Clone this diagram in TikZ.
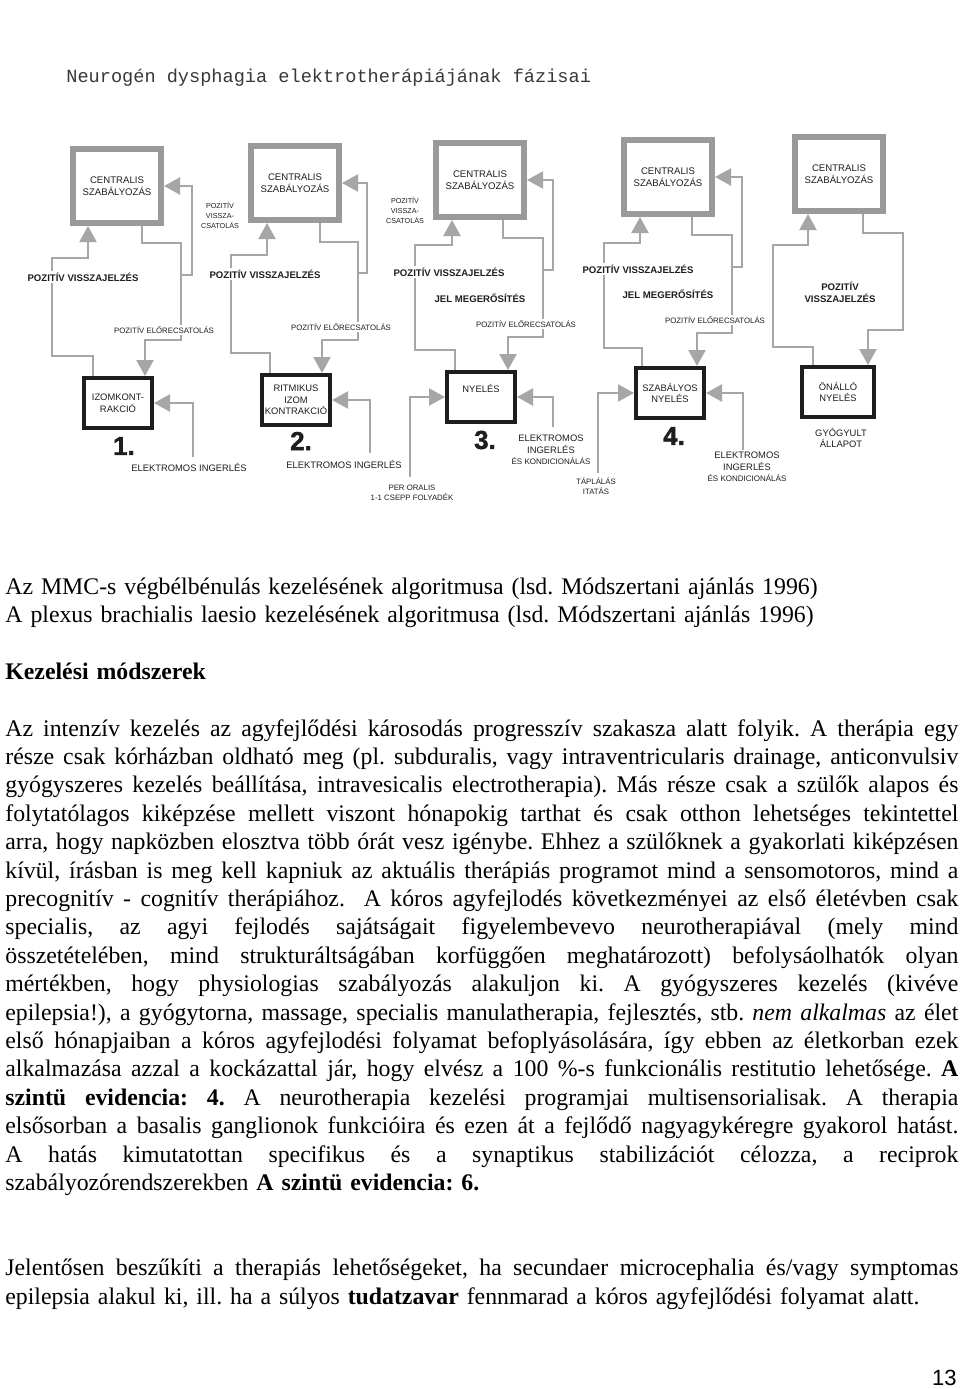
\documentclass[tikz,border=0pt]{standalone}
\usepackage{fontspec}
\setmainfont{Liberation Serif}
\newfontfamily\diagfont{Liberation Sans}
\newfontfamily\typefont{Liberation Mono}
\newfontfamily\phasefont[FakeBold=1.5]{Liberation Sans}
\usetikzlibrary{arrows.meta}
\frenchspacing

\definecolor{scangray}{HTML}{A6A6A6}
\definecolor{framegray}{HTML}{9A9A9A}
\definecolor{ink}{HTML}{1E1E1E}

\newcommand{\jline}[1]{\leavevmode\hbox to 476.5pt{\spaceskip=0.25em plus 0.6em minus 0.1em\relax #1}\\}

\tikzset{
  centralbox/.style={draw=framegray, line width=3pt, fill=white, inner sep=0pt,
    minimum width=44pt, minimum height=37pt, align=center, text=ink,
    font=\diagfont\fontsize{4.8pt}{5.8pt}\selectfont},
  phasebox/.style={draw=ink, line width=2.2pt, fill=white, inner sep=0pt,
    minimum width=33.8pt, minimum height=24.8pt, align=center, text=ink,
    font=\diagfont\fontsize{4.7pt}{5.8pt}\selectfont},
  wire/.style={scangray, line width=1.1pt},
  feed/.style={wire, -{Triangle[length=8pt,width=8.5pt]}},
  boldlbl/.style={fill=white, inner sep=1pt, align=center, text=ink,
    font=\diagfont\bfseries\fontsize{4.8pt}{5.8pt}\selectfont},
  smalllbl/.style={fill=white, inner sep=1pt, align=center, text=ink,
    font=\diagfont\fontsize{3.9pt}{5pt}\selectfont},
  vcslbl/.style={inner sep=0pt, align=center, text=ink,
    font=\diagfont\fontsize{3.6pt}{5pt}\selectfont},
  stimlbl/.style={inner sep=0pt, align=center, text=ink,
    font=\diagfont\fontsize{4.7pt}{5.8pt}\selectfont},
  notelbl/.style={inner sep=0pt, align=center, text=ink,
    font=\diagfont\fontsize{3.9pt}{4.8pt}\selectfont},
  phasenum/.style={inner sep=0pt, text=ink,
    font=\phasefont\bfseries\fontsize{13pt}{13pt}\selectfont},
  bodytext/.style={anchor=base west, inner sep=0pt, text width=476.5pt,
    align=left, font=\fontsize{11.9pt}{14.2pt}\selectfont},
}

\begin{document}
\begin{tikzpicture}[x=0.5pt, y=-0.5pt]
  \useasboundingbox[fill=white] (0,0) rectangle (960,1389);

  % title of the scanned figure
  \node[anchor=base west, inner sep=0pt, text=black!78,
    font=\typefont\fontsize{9.3pt}{11pt}\selectfont] (title) at (66,82)
    {Neurogén dysphagia elektrotherápiájának fázisai};

  % central regulation
  \node[centralbox] (c1) at (117,186) {CENTRALIS\\SZABÁLYOZÁS};
  \node[centralbox] (c2) at (295,183) {CENTRALIS\\SZABÁLYOZÁS};
  \node[centralbox] (c3) at (480,180) {CENTRALIS\\SZABÁLYOZÁS};
  \node[centralbox] (c4) at (668,177) {CENTRALIS\\SZABÁLYOZÁS};
  \node[centralbox] (c5) at (839,174) {CENTRALIS\\SZABÁLYOZÁS};

  % phases
  \node[phasebox] (m1) at (118,403) {IZOMKONT-\\RAKCIÓ};
  \node[phasebox] (m2) at (296,400) {RITMIKUS\\IZOM\\KONTRAKCIÓ};
  \node[phasebox] (m3) at (481,397) {NYELÉS\\[3pt]\mbox{}};
  \node[phasebox] (m4) at (670,393) {SZABÁLYOS\\NYELÉS};
  \node[phasebox, minimum width=35.8pt] (m5) at (838,392) {ÖNÁLLÓ\\NYELÉS};

  % phase 1
  \draw[feed] (93,0 |- m1.north) |- (52,356) |- (88,258) -- (88,0 |- c1.south);
  \draw[feed] (142,0 |- c1.south) |- (181,243) |- (145,340) -- (145,0 |- m1.north);
  \draw[feed] (181,275) -- (192,275) |- (c1.east);
  \coordinate (s1) at (193,457);
  \draw[feed] (s1) |- (m1.east);

  % phase 2
  \draw[feed] (270,0 |- m2.north) |- (231,353) |- (267,255) -- (267,0 |- c2.south);
  \draw[feed] (320,0 |- c2.south) |- (358,242) |- (322,340) -- (322,0 |- m2.north);
  \draw[feed] (358,273) -- (367,273) |- (c2.east);
  \coordinate (s2) at (370,453);
  \draw[feed] (s2) |- (m2.east);

  % phase 3
  \draw[feed] (455,0 |- m3.north) |- (415,350) |- (452,245) -- (452,0 |- c3.south);
  \draw[feed] (503,0 |- c3.south) |- (543,238) |- (508,337) -- (508,0 |- m3.north);
  \draw[feed] (543,270) -- (553,270) |- (c3.east);
  \coordinate (o3) at (410,477);
  \draw[feed] (o3) |- (m3.west);
  \coordinate (s3) at (553,427);
  \draw[feed] (s3) |- (m3.east);

  % phase 4
  \draw[feed] (642,0 |- m4.north) |- (604,348) |- (640,243) -- (640,0 |- c4.south);
  \draw[feed] (692,0 |- c4.south) |- (732,235) |- (697,333) -- (697,0 |- m4.north);
  \draw[feed] (732,267) -- (742,267) |- (c4.east);
  \coordinate (o4) at (598,473);
  \draw[feed] (o4) |- (m4.west);
  \coordinate (s4) at (743,450);
  \draw[feed] (s4) |- (m4.east);

  % healed state
  \draw[feed] (813,0 |- m5.north) |- (773,347) |- (808,245) -- (808,0 |- c5.south);
  \draw[feed] (863,0 |- c5.south) |- (903,233) |- (868,330) -- (868,0 |- m5.north);

  % labels
  \node[boldlbl] (pv1) at (83,277) {POZITÍV VISSZAJELZÉS};
  \node[boldlbl] (pv2) at (265,274) {POZITÍV VISSZAJELZÉS};
  \node[boldlbl] (pv3) at (449,272) {POZITÍV VISSZAJELZÉS};
  \node[boldlbl] (pv4) at (638,269) {POZITÍV VISSZAJELZÉS};
  \node[boldlbl] (pv5) at (840,292) {POZITÍV\\VISSZAJELZÉS};
  \node[boldlbl] (jm3) at (480,298) {JEL MEGERŐSÍTÉS};
  \node[boldlbl] (jm4) at (668,294) {JEL MEGERŐSÍTÉS};
  \node[smalllbl] (pe1) at (164,330) {POZITÍV ELŐRECSATOLÁS};
  \node[smalllbl] (pe2) at (341,327) {POZITÍV ELŐRECSATOLÁS};
  \node[smalllbl] (pe3) at (526,324) {POZITÍV ELŐRECSATOLÁS};
  \node[smalllbl] (pe4) at (715,320) {POZITÍV ELŐRECSATOLÁS};
  \node[vcslbl] (vc1) at (220,215) {POZITÍV\\VISSZA-\\CSATOLÁS};
  \node[vcslbl] (vc2) at (405,210) {POZITÍV\\VISSZA-\\CSATOLÁS};
  \node[stimlbl] (el1) at (189,467) {ELEKTROMOS INGERLÉS};
  \node[stimlbl] (el2) at (344,464) {ELEKTROMOS INGERLÉS};
  \node[stimlbl] (el3) at (551,450) {ELEKTROMOS\\INGERLÉS\\{\fontsize{4pt}{4.6pt}\selectfont ÉS KONDICIONÁLÁS}};
  \node[stimlbl] (el4) at (747,467) {ELEKTROMOS\\INGERLÉS\\{\fontsize{4pt}{4.6pt}\selectfont ÉS KONDICIONÁLÁS}};
  \node[notelbl] (po3) at (412,493) {PER ORALIS\\1-1 CSEPP FOLYADÉK};
  \node[notelbl] (tp4) at (596,486) {TÁPLÁLÁS\\ITATÁS};
  \node[stimlbl] (gy5) at (841,438) {GYÓGYULT\\ÁLLAPOT};
  \node[phasenum] (n1) at (124,446) {1.};
  \node[phasenum] (n2) at (301,441) {2.};
  \node[phasenum] (n3) at (485,440) {3.};
  \node[phasenum] (n4) at (674,436) {4.};

  % page text
  \node[bodytext] (body) at (5,594) {%
    Az MMC-s végbélbénulás kezelésének algoritmusa (lsd. Módszertani ajánlás 1996)\\
    A plexus brachialis laesio kezelésének algoritmusa (lsd. Módszertani ajánlás 1996)\\[14.2pt]
    \textbf{Kezelési módszerek}\\[14.2pt]
    \jline{Az intenzív kezelés az agyfejlődési károsodás progresszív szakasza alatt folyik. A therápia egy}
    \jline{része csak kórházban oldható meg (pl. subduralis, vagy intraventricularis drainage, anticonvulsiv}
    \jline{gyógyszeres kezelés beállítása, intravesicalis electrotherapia). Más része csak a szülők alapos és}
    \jline{folytatólagos kiképzése mellett viszont hónapokig tarthat és csak otthon lehetséges tekintettel}
    \jline{arra, hogy napközben elosztva több órát vesz igénybe. Ehhez a szülőknek a gyakorlati kiképzésen}
    \jline{kívül, írásban is meg kell kapniuk az aktuális therápiás programot mind a sensomotoros, mind a}
    \jline{precognitív - cognitív therápiához.\ \ A kóros agyfejlodés következményei az első életévben csak}
    \jline{specialis, az agyi fejlodés sajátságait figyelembevevo neurotherapiával (mely mind}
    \jline{összetételében, mind strukturáltságában korfüggően meghatározott) befolysáolhatók olyan}
    \jline{mértékben, hogy physiologias szabályozás alakuljon ki. A gyógyszeres kezelés (kivéve}
    \jline{epilepsia!), a gyógytorna, massage, specialis manulatherapia, fejlesztés, stb. \textit{nem alkalmas} az élet}
    \jline{első hónapjaiban a kóros agyfejlodési folyamat befoplyásolására, így ebben az életkorban ezek}
    \jline{alkalmazása azzal a kockázattal jár, hogy elvész a 100 \%-s funkcionális restitutio lehetősége. \textbf{A}}
    \jline{\textbf{szintü evidencia: 4.} A neurotherapia kezelési programjai multisensorialisak. A therapia}
    \jline{elsősorban a basalis ganglionok funkcióira és ezen át a fejlődő nagyagykéregre gyakorol hatást.}
    \jline{A hatás kimutatottan specifikus és a synaptikus stabilizációt célozza, a reciprok}
    szabályozórendszerekben \textbf{A szintü evidencia: 6.}\\[28.4pt]
    \jline{Jelentősen beszűkíti a therapiás lehetőségeket, ha secundaer microcephalia és/vagy symptomas}
    epilepsia alakul ki, ill. ha a súlyos \textbf{tudatzavar} fennmarad a kóros agyfejlődési folyamat alatt.};
  \node[anchor=base east, inner sep=0pt, font=\diagfont\fontsize{11pt}{13pt}\selectfont] (page) at (957,1385) {13};
\end{tikzpicture}
\end{document}
